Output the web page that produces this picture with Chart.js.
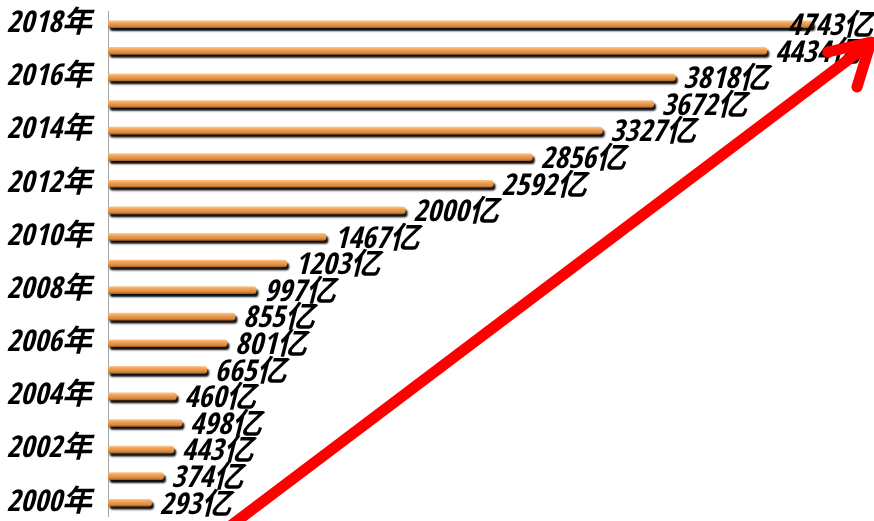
<!DOCTYPE html>
<html>
<head>
<meta charset="utf-8">
<script src="https://cdn.jsdelivr.net/npm/chart.js@4"></script>
<style>
  html,body{margin:0;padding:0;background:#fff;}
  #wrap{width:874px;height:521px;position:relative;}
</style>
</head>
<body>
<div id="wrap"><canvas id="chart"></canvas></div>
<script>
/* ===== Data ===== */
const YEARS  = ['2000','2001','2002','2003','2004','2005','2006','2007','2008','2009',
                '2010','2011','2012','2013','2014','2015','2016','2017','2018'];
const VALUES = [293,374,443,498,460,665,801,855,997,1203,
                1467,2000,2592,2856,3327,3672,3818,4434,4743];
const YEAR_SUFFIX  = '年';
const VALUE_SUFFIX = '亿';
const X_MAX = 5000;

const FONT_FAMILY = '"Open Sans Condensed","Roboto Condensed","DejaVu Sans Condensed","Noto Sans CJK SC",sans-serif';
const LABEL_FONT = 'italic bold 30px ' + FONT_FAMILY;

/* ===== Plugins ===== */
// dark drop shadow under the bars
const barShadow = {
  id:'barShadow',
  beforeDatasetsDraw(chart){
    const c = chart.ctx;
    c.save();
    c.shadowColor = 'rgba(0,0,0,0.95)';
    c.shadowOffsetX = 2;
    c.shadowOffsetY = 3;
    c.shadowBlur = 2;
  },
  afterDatasetsDraw(chart){
    chart.ctx.restore();
  }
};

// value labels at bar ends
const valueLabels = {
  id:'valueLabels',
  afterDraw(chart){
    const c = chart.ctx;
    const meta = chart.getDatasetMeta(0);
    c.save();
    c.font = LABEL_FONT;
    c.fillStyle = '#000';
    c.textBaseline = 'middle';
    meta.data.forEach((bar, i) => {
      const txt = VALUES[i] + VALUE_SUFFIX;
      const w = c.measureText(txt).width;
      const x = Math.min(bar.x + 8, chart.width - w - 1);
      c.fillText(txt, x, bar.y + 3);
    });
    c.restore();
  }
};

// red trend arrow across the chart
const trendArrow = {
  id:'trendArrow',
  afterDraw(chart){
    const c = chart.ctx;
    const W = chart.width, H = chart.height;
    const tail = {x: W * 0.262, y: H + 6};
    const tip  = {x: W - 3, y: 42};
    c.save();
    c.strokeStyle = '#ff0000';
    c.lineWidth = 11;
    c.lineCap = 'round';
    c.lineJoin = 'round';
    c.beginPath();
    c.moveTo(tail.x, tail.y); c.lineTo(tip.x - 6, tip.y + 5);
    c.stroke();
    c.beginPath();
    c.moveTo(W - 46, 52); c.lineTo(tip.x, tip.y); c.lineTo(W - 17, 87);
    c.stroke();
    c.restore();
  }
};

/* ===== Chart ===== */
function barGradient(context){
  const chart = context.chart;
  const y = chart.scales && chart.scales.y;
  const py = y ? y.getPixelForValue(context.dataIndex) : NaN;
  if(!Number.isFinite(py)) return '#ea9548';
  const g = chart.ctx.createLinearGradient(0, py - 3.5, 0, py + 3.5);
  g.addColorStop(0, '#f9c48a');
  g.addColorStop(0.35, '#f0a055');
  g.addColorStop(0.75, '#dc8a3c');
  g.addColorStop(1, '#a8622a');
  return g;
}

new Chart(document.getElementById('chart'), {
  type:'bar',
  plugins:[barShadow, valueLabels, trendArrow],
  data:{
    labels:YEARS,
    datasets:[{
      data:VALUES,
      backgroundColor:barGradient,
      borderWidth:0,
      borderRadius:3,
      borderSkipped:false,
      barThickness:7
    }]
  },
  options:{
    indexAxis:'y',
    responsive:true,
    maintainAspectRatio:false,
    animation:false,
    layout:{padding:{top:11,right:23,bottom:5,left:0}},
    plugins:{legend:{display:false},tooltip:{enabled:false}},
    scales:{
      x:{display:false,min:0,max:X_MAX},
      y:{
        reverse:true,
        grid:{display:false,drawTicks:false},
        border:{color:'#a6a6a6',width:1},
        afterFit(s){ s.width = 108; s.paddingTop = 0; s.paddingBottom = 0; },
        ticks:{
          autoSkip:false,
          padding:16,
          color:'#000',
          font:{family:FONT_FAMILY,size:30,style:'italic',weight:'bold'},
          callback(v){
            const yr = this.getLabelForValue(v);
            return Number(yr) % 2 === 0 ? yr + YEAR_SUFFIX : '';
          }
        }
      }
    }
  }
});
</script>
</body>
</html>
